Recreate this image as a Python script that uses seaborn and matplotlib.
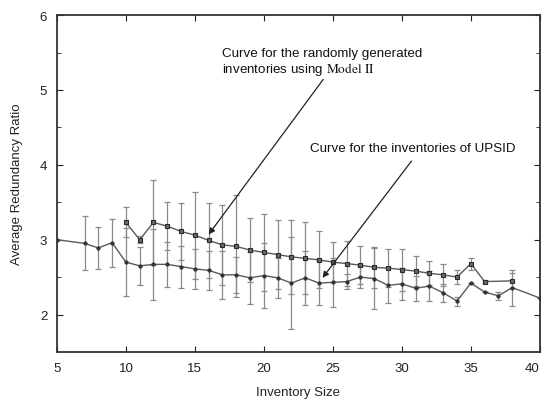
import numpy as np
import pandas as pd
import matplotlib
matplotlib.use("Agg")
import matplotlib.pyplot as plt
import seaborn as sns

# Curve for the randomly generated inventories (Model II)
model_x = [10, 11, 12, 13, 14, 15, 16, 17, 18, 19, 20, 21, 22, 23, 24, 25, 26,
           27, 28, 29, 30, 31, 32, 33, 34, 35, 36, 38]
model_y = [3.23, 3.00, 3.23, 3.18, 3.11, 3.06, 2.99, 2.93, 2.91, 2.86, 2.83, 2.80,
           2.77, 2.75, 2.73, 2.70, 2.68, 2.66, 2.63, 2.62, 2.60, 2.58, 2.55, 2.53,
           2.50, 2.68, 2.44, 2.45]
model_err = [0.20, 0.05, 0.57, 0.32, 0.38, 0.58, 0.50, 0.53, 0.68, 0.43, 0.51, 0.46,
             0.49, 0.48, 0.38, 0.27, 0.30, 0.25, 0.27, 0.25, 0.28, 0.20, 0.16, 0.15,
             0.09, 0.08, 0.02, 0.10]

# Curve for the inventories of UPSID
upsid_x = [5, 7, 8, 9, 10, 11, 12, 13, 14, 15, 16, 17, 18, 19, 20, 21, 22, 23, 24,
           25, 26, 27, 28, 29, 30, 31, 32, 33, 34, 35, 36, 37, 38, 40]
upsid_y = [3.00, 2.95, 2.89, 2.96, 2.70, 2.65, 2.67, 2.67, 2.64, 2.61, 2.59, 2.53,
           2.53, 2.49, 2.52, 2.49, 2.42, 2.49, 2.42, 2.43, 2.44, 2.50, 2.48, 2.39,
           2.41, 2.35, 2.38, 2.29, 2.18, 2.42, 2.30, 2.25, 2.36, 2.22]
upsid_err = [0.0, 0.36, 0.28, 0.32, 0.45, 0.25, 0.47, 0.30, 0.28, 0.27, 0.26, 0.32,
             0.24, 0.35, 0.43, 0.27, 0.61, 0.36, 0.29, 0.33, 0.10, 0.15, 0.41, 0.23,
             0.21, 0.17, 0.20, 0.12, 0.06, 0.0, 0.0, 0.05, 0.24, 0.0]

x_ticks = [5, 10, 15, 20, 25, 30, 35, 40]
y_ticks = [2, 3, 4, 5, 6]

sns.set_style("ticks")
plt.rcParams["font.family"] = ["Liberation Sans", "DejaVu Sans"]
plt.rcParams["mathtext.fontset"] = "stix"

fig = plt.figure(figsize=(5.42, 4.02), dpi=100)
ax = fig.add_axes([0.105, 0.122, 0.891, 0.838])

model_df = pd.DataFrame({"size": model_x, "ratio": model_y})
upsid_df = pd.DataFrame({"size": upsid_x, "ratio": upsid_y})

# error bars first, then lines with markers
ax.errorbar(model_x, model_y, yerr=model_err, fmt="none", ecolor="#8a8a8a",
            elinewidth=0.9, capsize=2.5, capthick=0.9, zorder=2)
ax.errorbar(upsid_x, upsid_y, yerr=upsid_err, fmt="none", ecolor="#8a8a8a",
            elinewidth=0.9, capsize=2.5, capthick=0.9, zorder=2)

sns.lineplot(data=model_df, x="size", y="ratio", ax=ax, color="#5a5a5a",
             linewidth=1, marker="s", markersize=3.5, markerfacecolor="#6a6a6a",
             markeredgecolor="#2a2a2a", markeredgewidth=0.8, zorder=3)
sns.lineplot(data=upsid_df, x="size", y="ratio", ax=ax, color="#5a5a5a",
             linewidth=1, marker="o", markersize=2.3, markerfacecolor="#333333",
             markeredgecolor="#333333", zorder=3)

ax.set_xlim(5, 40)
ax.set_ylim(1.5, 6)
ax.set_xticks(x_ticks)
ax.set_yticks(y_ticks)
ax.set_yticks([2.5, 3.5, 4.5, 5.5], minor=True)
ax.tick_params(axis="both", which="both", direction="in", top=True, right=True,
               labelsize=9.5, colors="#222222", pad=7)
ax.tick_params(axis="both", which="major", length=4)
ax.tick_params(axis="both", which="minor", length=3)
ax.get_xticklabels()[-1].set_horizontalalignment("right")
for s in ax.spines.values():
    s.set_color("#333333")
    s.set_linewidth(1.3)

ax.set_xlabel("Inventory Size", fontsize=9.5, labelpad=9, color="#222222")
ax.set_ylabel("Average Redundancy Ratio", fontsize=9.5, labelpad=12, color="#222222")

ax.annotate("", xy=(16.0, 3.07), xytext=(24.3, 5.14),
            arrowprops=dict(arrowstyle="-|>", color="#222222", lw=0.9,
                            mutation_scale=9, shrinkA=0, shrinkB=0))
ax.annotate("", xy=(24.25, 2.49), xytext=(30.7, 4.05),
            arrowprops=dict(arrowstyle="-|>", color="#222222", lw=0.9,
                            mutation_scale=9, shrinkA=0, shrinkB=0))

ax.text(16.96, 5.50, "Curve for the randomly generated", fontsize=9.6,
        va="center", ha="left", color="#111111")
ax.text(16.96, 5.29, r"inventories using $\mathrm{Model\ II}$", fontsize=9.6,
        va="center", ha="left", color="#111111")
ax.text(23.33, 4.23, "Curve for the inventories of UPSID", fontsize=9.6,
        va="center", ha="left", color="#111111")

ax.set_facecolor("white")
fig.savefig("out.png", dpi=100)
